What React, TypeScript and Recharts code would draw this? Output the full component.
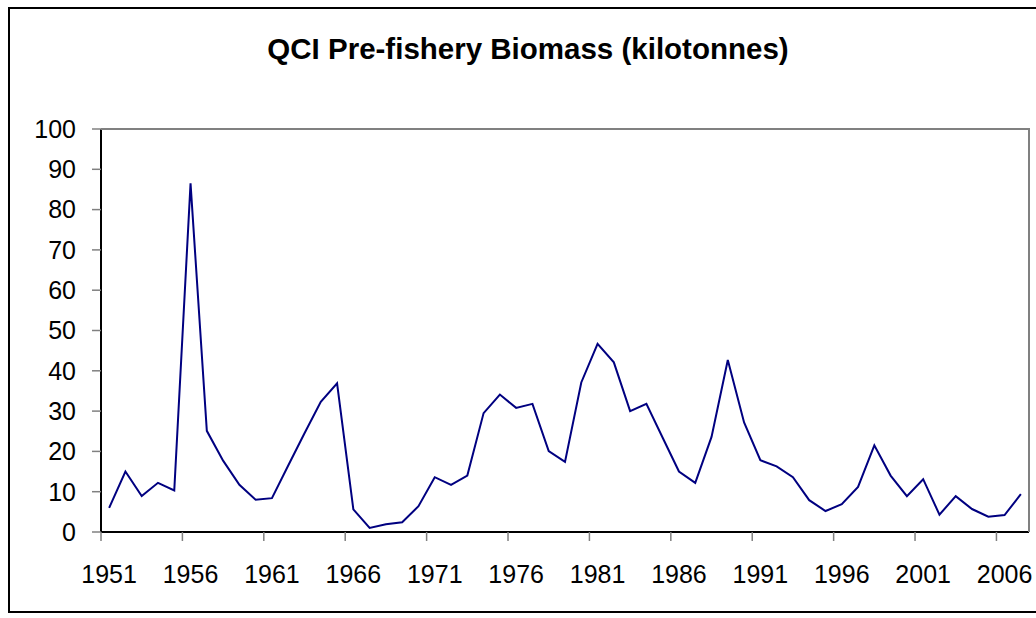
import React from 'react';
import { LineChart, Line, XAxis, YAxis } from 'recharts';

const years = [
  1951, 1952, 1953, 1954, 1955, 1956, 1957, 1958, 1959, 1960,
  1961, 1962, 1963, 1964, 1965, 1966, 1967, 1968, 1969, 1970,
  1971, 1972, 1973, 1974, 1975, 1976, 1977, 1978, 1979, 1980,
  1981, 1982, 1983, 1984, 1985, 1986, 1987, 1988, 1989, 1990,
  1991, 1992, 1993, 1994, 1995, 1996, 1997, 1998, 1999, 2000,
  2001, 2002, 2003, 2004, 2005, 2006, 2007];

const biomass = [
  6.0, 15.0, 8.9, 12.2, 10.3, 86.5, 25.1, 17.7, 11.7, 8.0,
  8.4, 16.5, 24.5, 32.3, 36.9, 5.6, 1.0, 1.9, 2.4, 6.4,
  13.6, 11.7, 14.0, 29.5, 34.1, 30.8, 31.8, 20.1, 17.4, 37.1,
  46.7, 42.1, 30.0, 31.8, 23.4, 15.0, 12.2, 23.6, 42.7, 27.2,
  17.8, 16.3, 13.6, 7.9, 5.2, 6.9, 11.2, 21.5, 14.0, 8.9,
  13.1, 4.3, 8.9, 5.7, 3.8, 4.2, 9.4];

const xTicks = [1951, 1956, 1961, 1966, 1971, 1976, 1981, 1986, 1991, 1996, 2001, 2006];
const yTicks = [0, 10, 20, 30, 40, 50, 60, 70, 80, 90, 100];

const data = years.map((year, i) => ({ year, value: biomass[i] }));

const FONT = '"Liberation Sans", Arial, sans-serif';
const W = 1036;
const H = 618;
const plotLeft = 101;
const plotRight = 1029;
const plotTop = 129;
const plotBottom = 532;
const halfBand = (plotRight - plotLeft) / years.length / 2;

// Excel-style: tick marks sit between categories, labels on the category
const XTick = ({ x, y, payload }: any) => (
  <g>
    <line x1={x - halfBand} x2={x - halfBand} y1={y - 31} y2={y - 22} stroke="#808080" strokeWidth={1.5} />
    <text x={x} y={y + 20} textAnchor="middle" fontSize={25} fontFamily={FONT} fill="#000">
      {payload.value}
    </text>
  </g>
);

export default function App() {
  return (
    <div style={{ position: 'absolute', left: 0, top: 0, width: W, height: H, background: '#fff', overflow: 'hidden' }}>
      <div
        style={{
          position: 'absolute',
          left: 8,
          top: 7,
          width: 1040,
          height: 606,
          border: '2px solid #000',
          boxSizing: 'border-box'
        }} />
      <div
        style={{
          position: 'absolute',
          left: 10,
          width: W,
          top: 32,
          textAlign: 'center',
          fontFamily: FONT,
          fontWeight: 'bold',
          fontSize: 29.5,
          color: '#000'
        }}>
        QCI Pre-fishery Biomass (kilotonnes)
      </div>
      <div style={{ position: 'absolute', left: 0, top: 0 }}>
        <LineChart
          width={W}
          height={H}
          data={data}
          margin={{ top: plotTop, right: W - plotRight, bottom: 0, left: 0 }}>
          <XAxis
            dataKey="year"
            type="category"
            ticks={xTicks}
            interval={0}
            height={H - plotBottom}
            padding={{ left: halfBand, right: halfBand }}
            tickLine={false}
            tickSize={9}
            tickMargin={22}
            axisLine={{ stroke: '#000', strokeWidth: 2 }}
            tick={<XTick />} />
          <YAxis
            type="number"
            domain={[0, 100]}
            ticks={yTicks}
            interval={0}
            width={plotLeft}
            tickSize={9}
            tickMargin={16}
            tickLine={{ stroke: '#808080', strokeWidth: 1.5 }}
            axisLine={{ stroke: '#000', strokeWidth: 2 }}
            tick={{ fontSize: 25, fontFamily: FONT, fill: '#000' }} />
          <Line
            type="linear"
            dataKey="value"
            stroke="#000080"
            strokeWidth={2}
            dot={false}
            isAnimationActive={false} />
        </LineChart>
      </div>
      <div
        style={{
          position: 'absolute',
          left: plotLeft,
          top: plotTop - 1,
          width: plotRight - plotLeft + 1,
          height: plotBottom - plotTop + 1,
          borderTop: '2px solid #808080',
          borderRight: '2px solid #808080',
          boxSizing: 'border-box',
          pointerEvents: 'none'
        }} />
    </div>
  );
}
